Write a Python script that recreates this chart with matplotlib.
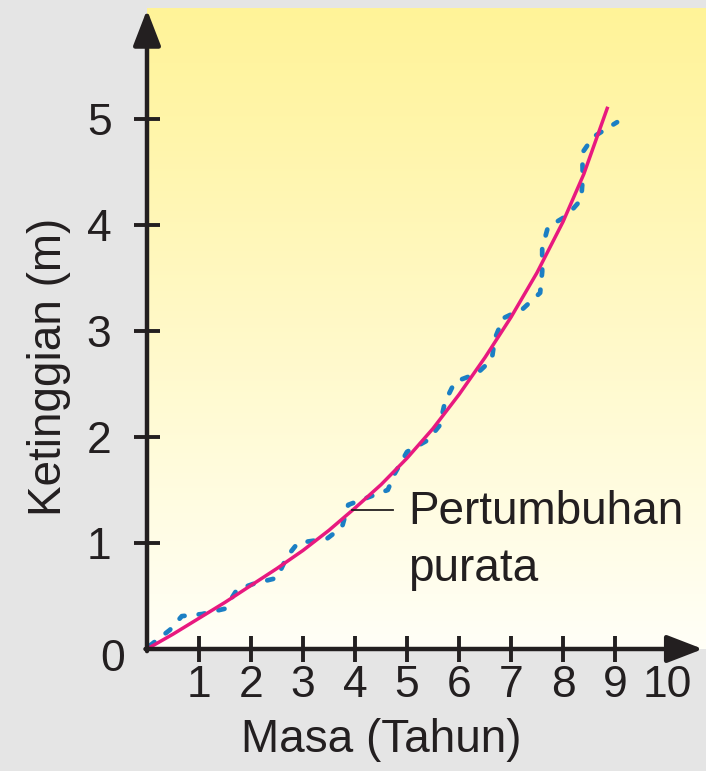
import numpy as np
import matplotlib
matplotlib.use("Agg")
import matplotlib.pyplot as plt
from matplotlib.transforms import ScaledTranslation

plt.rcParams['font.family'] = ['Liberation Sans', 'DejaVu Sans']

# average growth curve (pink)
purata_x = [0, 0.5, 1, 1.5, 2, 2.5, 3, 3.5, 4, 4.5, 5, 5.5, 6, 6.5, 7, 7.5, 8, 8.4, 8.85]
purata_y = [0, 0.14, 0.29, 0.44, 0.6, 0.76, 0.93, 1.12, 1.33, 1.55, 1.8, 2.08, 2.4, 2.75, 3.13, 3.55, 4.03, 4.48, 5.1]

# actual growth (blue dashed, step-like)
sebenar_x = [0.05, 0.44, 0.67, 1.06, 1.5, 1.73, 2.08, 2.5, 2.69, 2.9, 3.46, 3.75, 3.87, 4.25,
             4.63, 4.77, 5.0, 5.4, 5.63, 5.73, 5.92, 6.35, 6.63, 6.69, 6.85, 7.23, 7.56, 7.6,
             7.6, 7.71, 8.08, 8.35, 8.38, 8.37, 8.58, 9.04]
sebenar_y = [0.03, 0.18, 0.31, 0.33, 0.38, 0.56, 0.62, 0.67, 0.87, 1.0, 1.04, 1.15, 1.36, 1.43,
             1.5, 1.66, 1.86, 1.97, 2.11, 2.33, 2.52, 2.6, 2.73, 2.93, 3.12, 3.21, 3.36, 3.56,
             3.78, 3.98, 4.09, 4.24, 4.45, 4.68, 4.83, 4.97]

xticks = [1, 2, 3, 4, 5, 6, 7, 8, 9, 10]
yticks = [0, 1, 2, 3, 4, 5]

ink = '#231f20'

fig = plt.figure(figsize=(7.06, 7.71), dpi=100, facecolor='#e5e5e5')
ax = fig.add_axes([147 / 706, 122 / 771, 559 / 706, 641 / 771])
ax.set_xlim(0, 10.75)
ax.set_ylim(0, 6.047)

# yellow -> white background gradient
grad = np.linspace(0, 1, 256).reshape(-1, 1)
top = np.array([255, 243, 152]) / 255
bot = np.array([255, 255, 247]) / 255
img = top[None, None, :] * (1 - grad[:, :, None]) + bot[None, None, :] * grad[:, :, None]
ax.imshow(img, extent=[0, 10.75, 0, 6.047], aspect='auto', zorder=0, origin='upper')

for s in ax.spines.values():
    s.set_visible(False)

# axis lines with arrows
arr = dict(arrowstyle='-|>,head_length=2.2,head_width=0.85', color=ink, lw=3.2,
           shrinkA=0, shrinkB=0)
ax.annotate('', xy=(10.69, 0), xytext=(-0.03, 0), arrowprops=arr, annotation_clip=False, zorder=5)
ax.annotate('', xy=(0, 6.03), xytext=(0, -0.02), arrowprops=arr, annotation_clip=False, zorder=5)

ax.plot(sebenar_x, sebenar_y, color='#1b7fc4', lw=3.4, ls=(0, (1.3, 3.0)),
        dash_capstyle='round', solid_joinstyle='round', zorder=3)
ax.plot(purata_x, purata_y, color='#e8197f', lw=2.5, zorder=4)

# label leader
ax.plot([3.94, 4.74], [1.31, 1.31], color=ink, lw=1.3, zorder=4)
ax.text(5.02, 1.02, 'Pertumbuhan\npurata', fontsize=33, color=ink, ha='left', va='center',
        linespacing=1.38)

ax.set_xticks(xticks)
ax.set_yticks(yticks)
ax.set_xticklabels([str(v) for v in xticks])
ax.set_yticklabels([str(v) for v in yticks])
ax.tick_params(direction='inout', length=19, width=2.8, color=ink, labelsize=32,
               labelcolor=ink)
ax.tick_params(axis='x', pad=2)
ax.tick_params(axis='y', pad=16)
ax.yaxis.get_major_ticks()[0].tick1line.set_visible(False)
zero = ax.get_yticklabels()[0]
zero.set_transform(zero.get_transform() + ScaledTranslation(0.13, -0.06, fig.dpi_scale_trans))

ax.set_xlabel('Masa (Tahun)', fontsize=33, color=ink)
ax.xaxis.set_label_coords(0.419, -0.108)
ax.set_ylabel('Ketinggian (m)', fontsize=33, color=ink)
ax.yaxis.set_label_coords(-0.136, 0.44)

fig.savefig('out.png', dpi=100, facecolor=fig.get_facecolor())
